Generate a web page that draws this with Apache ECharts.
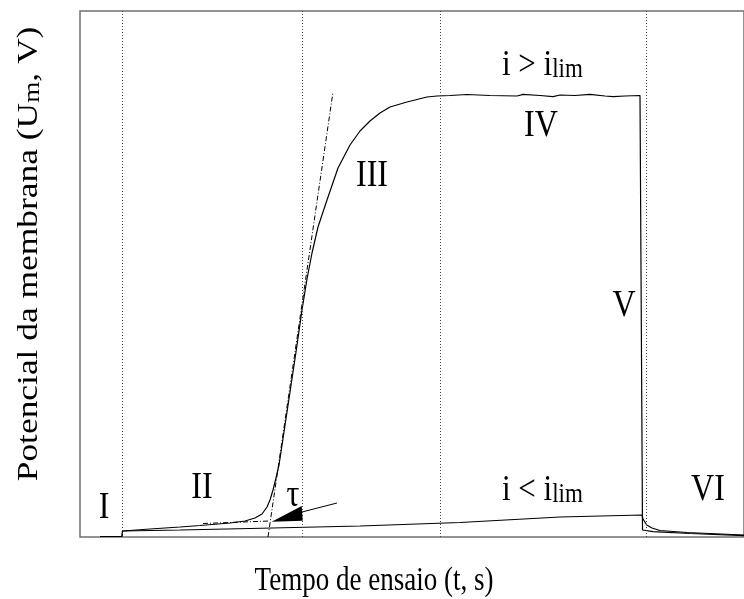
<!DOCTYPE html>
<html>
<head>
<meta charset="utf-8">
<script src="https://cdn.jsdelivr.net/npm/echarts@6/dist/echarts.min.js"></script>
<style>
  html, body { margin: 0; padding: 0; background: #fff; }
  #chart { width: 744px; height: 599px; }
</style>
</head>
<body>
<div id="chart"></div>
<script>
// valores: tempo e potencial em unidades arbitrárias (sem escala)
// curva com i > i_lim  [t, Um]
const curvaAcima = [
  [20, 0.5], [42, 0.5], [42.5, 6], [70, 8], [100, 10], [120, 11.5], [150, 14], [165, 16],
  [175, 19], [182, 23], [187, 30], [190, 37], [193, 47], [196, 59], [199, 72], [204, 105],
  [210, 145], [216, 185], [222, 227], [227, 258], [232, 284], [238, 310], [247, 337],
  [258, 369], [270, 392], [280, 406], [290, 416], [300, 424], [310, 430], [327, 435],
  [347, 440], [357, 441], [370, 441.5], [387, 442.5], [410, 441.5], [437, 441], [443, 442.7],
  [460, 441.5], [473, 440.3], [480, 442], [495, 441.5], [510, 442.7], [525, 441], [533, 440.3],
  [545, 441], [560, 441.5], [562, 441], [562.5, 7], [573, 5.3], [610, 3.5], [664, 1.3]
]
// curva com i < i_lim
const curvaAbaixo = [
  [20, 0.5], [42, 0.5], [42.5, 6], [100, 7], [170, 8.5], [280, 11], [380, 14.5], [480, 20],
  [562, 22], [563, 18], [566.7, 12], [572, 9], [580, 6.5], [607, 4.5], [664, 2]
]
// tangentes usadas para obter o tempo de transição
const tangenteSubida = [[188, 0], [253, 445]]
const tangenteBase = [[123, 13.5], [190, 16]]
// seta do tau
const setaLinha = [[222, 25], [257, 34]]
const setaPonta = [[191.7, 15.3], [221.7, 31], [222.7, 16.3]]
// separações das regiões (linhas pontilhadas)
const divisoes = [42, 222, 360, 566]
// rótulos das regiões [t, Um, texto]
const rotulos = [
  [24, 29, 'I'],
  [122, 49, 'II'],
  [213, 41, 'τ'],
  [292, 361, 'III'],
  [461, 411, 'IV'],
  [544, 231, 'V'],
  [628, 47, 'VI']
]
const rotulosCorrente = [
  [422, 472, 'i > i{sub|lim}'],
  [422, 47, 'i < i{sub|lim}']
]

const fonte = 'Liberation Serif, Times New Roman, serif'
const esticar = 1.18 // a figura original está esticada na vertical

const chart = echarts.init(document.getElementById('chart'))

const linha = (data, extra) => Object.assign({
  type: 'line',
  data: data,
  symbol: 'none',
  silent: true,
  animation: false,
  lineStyle: { color: '#000', width: 1.2 }
}, extra)

const subEstilo = { sub: { fontSize: 23, fontFamily: fonte, verticalAlign: 'bottom', lineHeight: 8 } }

chart.setOption({
  animation: false,
  grid: {
    left: 80, right: 0, top: 11, bottom: 62,
    show: true, borderColor: '#707070', borderWidth: 1.5
  },
  xAxis: {
    type: 'value', min: 0, max: 664,
    axisLine: { show: false }, axisTick: { show: false },
    axisLabel: { show: false }, splitLine: { show: false }
  },
  yAxis: {
    type: 'value', min: 0, max: 526,
    axisLine: { show: false }, axisTick: { show: false },
    axisLabel: { show: false }, splitLine: { show: false }
  },
  graphic: [
    {
      type: 'text', x: 29, y: 254, rotation: Math.PI / 2, scaleX: esticar,
      style: {
        text: 'Potencial da membrana (U{sub|m}, V)',
        fontSize: 30, fontFamily: fonte, fill: '#000',
        align: 'center', verticalAlign: 'middle',
        rich: subEstilo
      }
    },
    {
      type: 'text', x: 374, y: 581, scaleY: 1.25,
      style: {
        text: 'Tempo de ensaio (t, s)',
        fontSize: 27, fontFamily: fonte, fill: '#000',
        align: 'center', verticalAlign: 'middle'
      }
    }
  ],
  series: [
    linha(curvaAbaixo, {
      markLine: {
        silent: true, symbol: ['none', 'none'], animation: false,
        label: { show: false },
        lineStyle: { type: [1, 2], color: '#444', width: 1 },
        data: divisoes.map(v => ({ xAxis: v }))
      }
    }),
    linha(curvaAcima),
    linha(tangenteSubida, { lineStyle: { color: '#000', width: 1, type: [5, 2, 1, 2] } }),
    linha(tangenteBase, { lineStyle: { color: '#000', width: 1, type: [5, 2, 1, 2] } }),
    linha(setaLinha, { lineStyle: { color: '#000', width: 1 } }),
    {
      type: 'custom',
      silent: true,
      animation: false,
      data: setaPonta,
      renderItem: (params, api) => {
        if (params.dataIndex !== 0) return null
        return {
          type: 'polygon',
          shape: { points: setaPonta.map(p => api.coord(p)) },
          style: { fill: '#000' }
        }
      }
    },
    {
      type: 'custom',
      silent: true,
      animation: false,
      data: rotulos.map(r => [r[0], r[1]]),
      renderItem: (params, api) => {
        const r = rotulos[params.dataIndex]
        const p = api.coord([r[0], r[1]])
        return {
          type: 'text', x: p[0], y: p[1], scaleY: esticar,
          style: {
            text: r[2], fontSize: 32, fontFamily: fonte, fill: '#000',
            align: 'center', verticalAlign: 'middle'
          }
        }
      }
    },
    {
      type: 'custom',
      silent: true,
      animation: false,
      data: rotulosCorrente.map(r => [r[0], r[1]]),
      renderItem: (params, api) => {
        const r = rotulosCorrente[params.dataIndex]
        const p = api.coord([r[0], r[1]])
        return {
          type: 'text', x: p[0], y: p[1], scaleY: esticar,
          style: {
            text: r[2], fontSize: 31, fontFamily: fonte, fill: '#000',
            align: 'left', verticalAlign: 'middle',
            rich: subEstilo
          }
        }
      }
    }
  ]
})
</script>
</body>
</html>
